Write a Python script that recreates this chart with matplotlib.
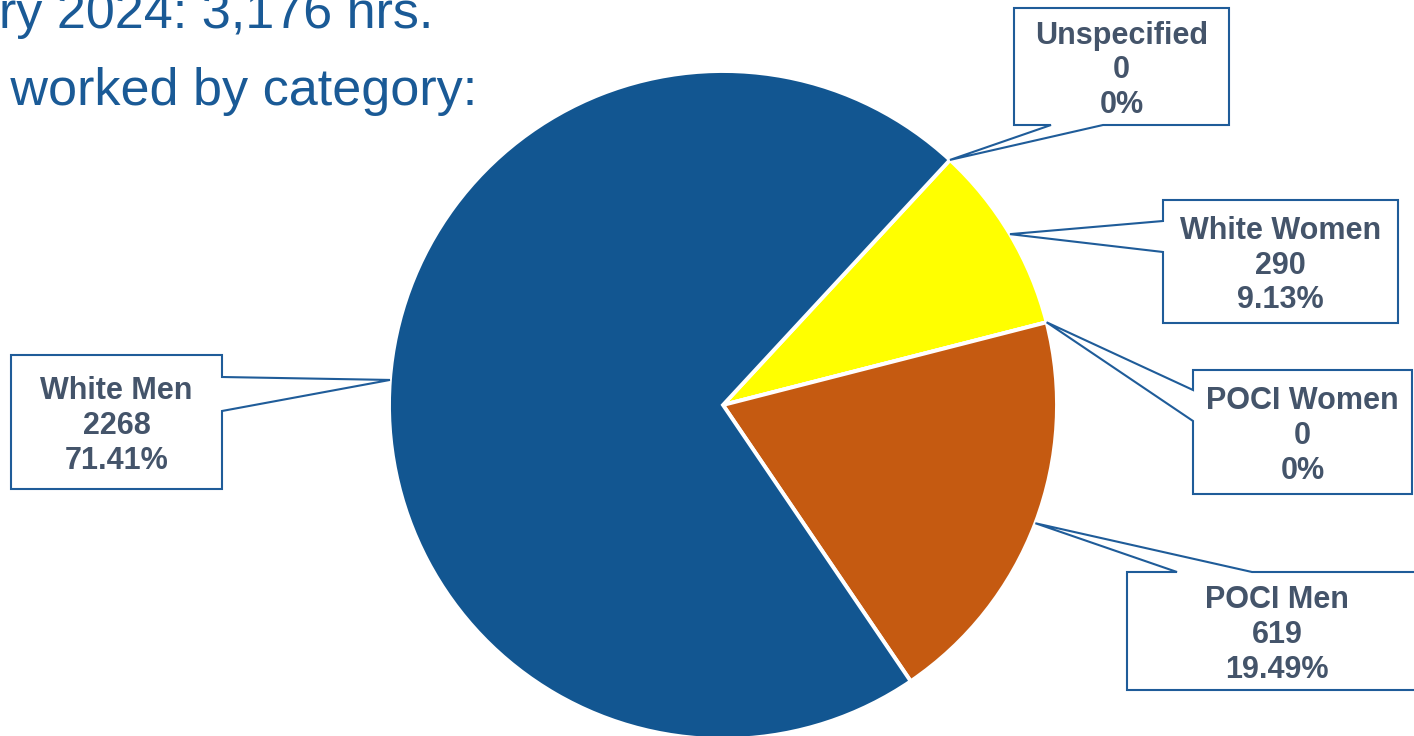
import matplotlib
matplotlib.use('Agg')
import matplotlib.pyplot as plt
import numpy as np
from matplotlib.patches import Polygon

# ---- data ----
categories = ['Unspecified', 'White Women', 'POCI Women', 'POCI Men', 'White Men']
hours = [0, 290, 0, 619, 2268]
pct_labels = ['0%', '9.13%', '0%', '19.49%', '71.41%']
colors = ['#7f7f7f', '#ffff00', '#7030a0', '#c55a11', '#125691']
title_lines = ['January 2024: 3,176 hrs.', 'Hours worked by category:']

W, H = 1414, 736
fig = plt.figure(figsize=(W / 100, H / 100), dpi=100)
ax = fig.add_axes([0, 0, 1, 1])

cx, cy, R = 723, H - 405, 334
wedges, _ = ax.pie(hours, colors=colors, startangle=47.2, counterclock=False,
                   center=(cx, cy), radius=R,
                   wedgeprops=dict(edgecolor='white', linewidth=2.8))
ax.set_xlim(0, W)
ax.set_ylim(0, H)
ax.set_aspect('auto')
ax.axis('off')

# ---- layout of callout boxes (pixel coords, y down) ----
boxes = {
    'Unspecified': dict(box=(1014, 8, 1229, 125), edge='bottom', base=(1051, 1103)),
    'White Women': dict(box=(1163, 200, 1398, 323), edge='left', base=(221, 252)),
    'POCI Women': dict(box=(1193, 370, 1412, 494), edge='left', base=(390, 421)),
    'POCI Men': dict(box=(1127, 572, 1427, 690), edge='top', base=(1177, 1252)),
    'White Men': dict(box=(11, 355, 222, 489), edge='right', base=(377, 411)),
}

edge_col = '#1f5c99'
text_col = '#44546a'

for w, cat, val, pct in zip(wedges, categories, hours, pct_labels):
    th = np.deg2rad((w.theta1 + w.theta2) / 2)
    tx = cx + R * np.cos(th)
    ty = cy + R * np.sin(th)          # data coords (y up)
    tip = (tx, H - ty)                # to pixel coords (y down)
    spec = boxes[cat]
    x0, y0, x1, y1 = spec['box']
    b1, b2 = spec['base']
    e = spec['edge']
    if e == 'bottom':
        pts = [(x0, y0), (x1, y0), (x1, y1), (b2, y1), tip, (b1, y1), (x0, y1)]
    elif e == 'left':
        pts = [(x0, y0), (x1, y0), (x1, y1), (x0, y1), (x0, b2), tip, (x0, b1)]
    elif e == 'top':
        pts = [(x0, y0), (b1, y0), tip, (b2, y0), (x1, y0), (x1, y1), (x0, y1)]
    else:
        pts = [(x0, y0), (x1, y0), (x1, b1), tip, (x1, b2), (x1, y1), (x0, y1)]
    pts = [(p[0], H - p[1]) for p in pts]
    ax.add_patch(Polygon(pts, closed=True, facecolor='white', edgecolor=edge_col,
                         linewidth=1.5, zorder=5, clip_on=False))
    ax.text((x0 + x1) / 2, H - (y0 + y1) / 2 - 4, f"{cat}\n{val}\n{pct}",
            ha='center', va='center', fontsize=22, fontweight='bold',
            color=text_col, linespacing=1.2, family='Liberation Sans', zorder=6)

# ---- title (partially off-canvas, as in the reference) ----
title_col = '#1a5a96'
ax.text(-143, H - 28, title_lines[0], ha='left', va='baseline', fontsize=37.5,
        color=title_col, family='Liberation Sans', clip_on=False)
ax.text(-143, H - 105, title_lines[1], ha='left', va='baseline', fontsize=37.5,
        color=title_col, family='Liberation Sans', clip_on=False)

fig.savefig('out.png', dpi=100)
